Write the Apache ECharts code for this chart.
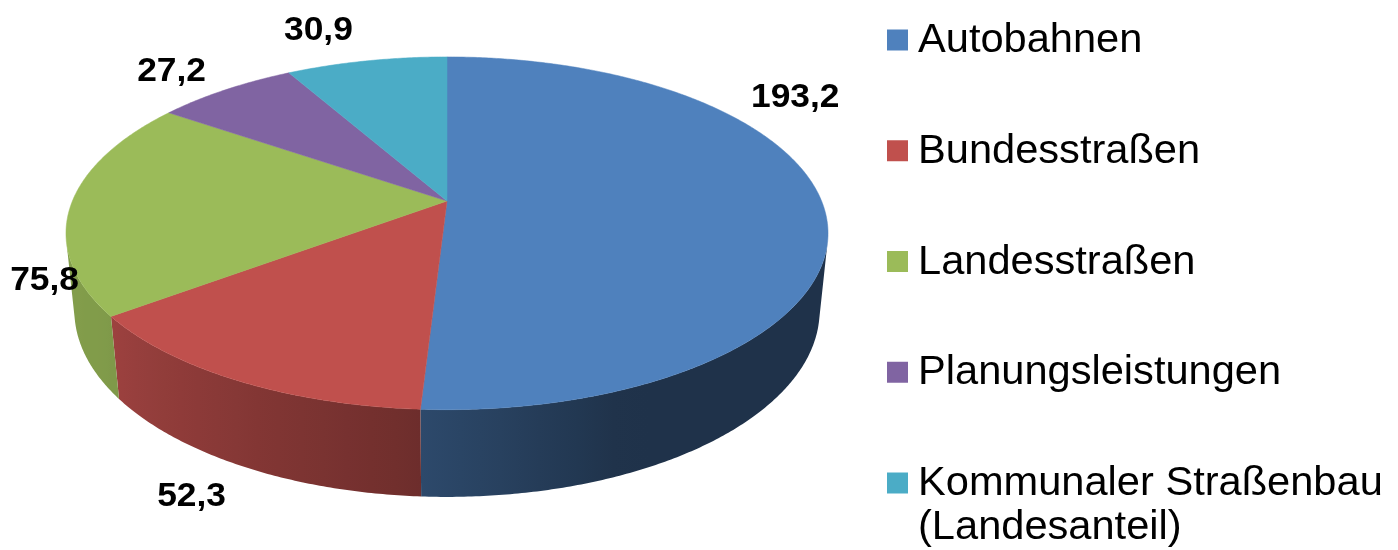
<!DOCTYPE html>
<html>
<head>
<meta charset="utf-8">
<script src="https://cdn.jsdelivr.net/npm/echarts@6/dist/echarts.min.js"></script>
<style>
html, body { margin: 0; padding: 0; background: #fff; }
#chart { width: 1398px; height: 550px; }
</style>
</head>
<body>
<div id="chart"></div>
<script>
// data
const categories = ['Autobahnen', 'Bundesstraßen', 'Landesstraßen', 'Planungsleistungen', 'Kommunaler Straßenbau\n(Landesanteil)']
const values = [193.2, 52.3, 75.8, 27.2, 30.9]

// look
const colors = ['#4F81BD', '#C0504D', '#9BBB59', '#8064A2', '#4BACC6']
const labelShift = [[-85, -109], [-6, 83], [30, 76], [-25, -4], [-38, -13]]
const view = { cx: 447, cy: 201, f: 1822, dist: 4.864, tilt: 27.07 * Math.PI / 180, height: 0.233 }
// wall brightness along the angle (deg -> factor)
const shadeStops = [[100, 0.39], [157, 0.39], [185, 0.58], [235, 0.83], [260, 0.85]]

const TAU = Math.PI * 2
const total = values.reduce((a, b) => a + b, 0)
const starts = []
values.reduce((acc, v) => { starts.push(acc); return acc + v / total * TAU }, 0)

const sinT = Math.sin(view.tilt)
const cosT = Math.cos(view.tilt)
// visible part of the outer wall
const wallLo = Math.acos(-1 / (view.dist * cosT))
const wallHi = TAU - wallLo

function project(theta, r, Y) {
    const X = r * Math.sin(theta)
    const Z = -r * Math.cos(theta)
    const yd = Z * sinT - Y * cosT
    const depth = view.dist - Z * cosT - Y * sinT
    return [view.cx + view.f * X / depth, view.cy + view.f * yd / depth]
}

function shadeFactor(deg) {
    if (deg <= shadeStops[0][0]) return shadeStops[0][1]
    for (let k = 1; k < shadeStops.length; k++) {
        const [d1, f1] = shadeStops[k]
        const [d0, f0] = shadeStops[k - 1]
        if (deg <= d1) return f0 + (f1 - f0) * (deg - d0) / (d1 - d0)
    }
    return shadeStops[shadeStops.length - 1][1]
}

function shade(hex, k) {
    const n = parseInt(hex.slice(1), 16)
    const r = Math.round(((n >> 16) & 255) * k)
    const g = Math.round(((n >> 8) & 255) * k)
    const b = Math.round((n & 255) * k)
    return `rgb(${r},${g},${b})`
}

function arc(a0, a1, Y) {
    const pts = []
    const steps = Math.max(2, Math.ceil((a1 - a0) / (Math.PI / 360)))
    for (let k = 0; k <= steps; k++) {
        pts.push(project(a0 + (a1 - a0) * k / steps, 1, Y))
    }
    return pts
}

const makeRender = (i) => (params, api) => {
    const a0 = starts[i]
    const a1 = a0 + api.value(0) / total * TAU
    const children = []

    // top face
    children.push({
        type: 'polygon',
        z2: 10,
        shape: { points: [project(0, 0, 0)].concat(arc(a0, a1, 0)) },
        style: { fill: colors[i], stroke: colors[i], lineWidth: 0.5 }
    })

    // front wall
    const w0 = Math.max(a0, wallLo)
    const w1 = Math.min(a1, wallHi)
    if (w1 > w0) {
        const top = arc(w0, w1, 0)
        const bottom = arc(w0, w1, -view.height).reverse()
        const pts = top.concat(bottom)
        const xs = pts.map(p => p[0])
        const minX = Math.min(...xs)
        const maxX = Math.max(...xs)
        const stops = []
        for (let k = 0; k <= 16; k++) {
            const t = w0 + (w1 - w0) * k / 16
            const x = project(t, 1, 0)[0]
            stops.push({
                offset: Math.min(1, Math.max(0, (x - minX) / (maxX - minX))),
                color: shade(colors[i], shadeFactor(t * 180 / Math.PI))
            })
        }
        stops.sort((p, q) => p.offset - q.offset)
        children.push({
            type: 'polygon',
            z2: 1,
            shape: { points: pts },
            style: {
                fill: { type: 'linear', x: 0, y: 0, x2: 1, y2: 0, colorStops: stops, global: false }
            }
        })
    }

    // value label
    const mid = (a0 + a1) / 2
    const p = project(mid, 1.15, 0)
    children.push({
        type: 'text',
        z2: 20,
        x: p[0] + labelShift[i][0],
        y: p[1] + labelShift[i][1],
        scaleX: 1.04,
        style: {
            text: api.value(0).toFixed(1).replace('.', ','),
            font: 'bold 34px "Liberation Sans", Arial, sans-serif',
            fill: '#000',
            align: 'center',
            verticalAlign: 'middle'
        }
    })

    return { type: 'group', children }
}

// legend drawn by hand so the two-line entry keeps its square on the first line
const legendItems = []
categories.forEach((name, i) => {
    const cy = 40 + i * 110.75
    legendItems.push({
        type: 'rect',
        shape: { x: 887, y: cy - 10.5, width: 21, height: 21 },
        style: { fill: colors[i] }
    })
    legendItems.push({
        type: 'text',
        x: 918,
        y: cy - 21,
        scaleX: 1.04,
        style: {
            text: name,
            font: '40px "Liberation Sans", Arial, sans-serif',
            lineHeight: 44,
            fill: '#000',
            verticalAlign: 'top'
        }
    })
})

const chart = echarts.init(document.getElementById('chart'))
chart.setOption({
    animation: false,
    backgroundColor: '#fff',
    graphic: legendItems,
    series: categories.map((name, i) => ({
        type: 'custom',
        name: name,
        coordinateSystem: 'none',
        silent: true,
        data: [values[i]],
        renderItem: makeRender(i)
    }))
})
</script>
</body>
</html>
